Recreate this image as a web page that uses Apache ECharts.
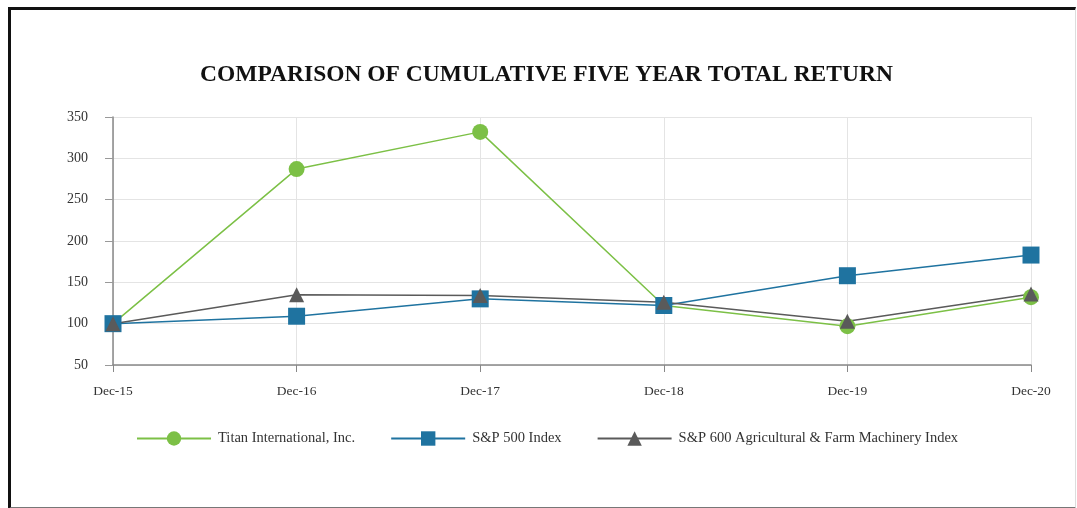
<!DOCTYPE html>
<html>
<head>
<meta charset="utf-8">
<script src="https://cdn.jsdelivr.net/npm/echarts@6/dist/echarts.min.js"></script>
<style>
html,body{margin:0;padding:0;background:#fff;}
#chart{position:absolute;left:0;top:0;width:1077px;height:508px;}
#frame{position:absolute;left:8px;top:7px;width:1064px;height:497px;border-left:3px solid #111;border-top:3px solid #111;border-right:1px solid #ddd;border-bottom:2px solid #777;pointer-events:none;}
</style>
</head>
<body>
<div id="chart"></div>
<div id="frame"></div>
<script>
const categories = ['Dec-15','Dec-16','Dec-17','Dec-18','Dec-19','Dec-20'];
const titan = [100, 287, 332, 122, 97, 132];
const sp500 = [100, 109, 130, 122, 158, 183];
const farm = [100, 135, 134, 126, 103, 136];
const seriesNames = ['Titan International, Inc.', 'S&P 500 Index', 'S&P 600 Agricultural & Farm Machinery Index'];

const chart = echarts.init(document.getElementById('chart'), null, {renderer:'canvas'});
const font = 'Liberation Serif, Times New Roman, serif';
function line(name, data, color, symbol, size){
  return {
    name, type:'line', data, symbol, symbolSize:size,
    lineStyle:{color, width:1.5},
    itemStyle:{color},
    emphasis:{disabled:true},
    animation:false
  };
}
chart.setOption({
  animation:false,
  title:{
    text:'COMPARISON OF CUMULATIVE FIVE YEAR TOTAL RETURN',
    left:195, top:58,
    textStyle:{fontFamily:font, fontWeight:'bold', fontSize:23.5, color:'#111'}
  },
  legend:{
    top:426, left:131,
    itemWidth:74, itemHeight:18, itemGap:35,
    textStyle:{fontFamily:font, fontSize:14.5, color:'#333', padding:[0,0,0,2]},
    data:seriesNames
  },
  grid:{left:113, right:46, top:117, bottom:143},
  xAxis:{
    type:'category', data:categories, boundaryGap:false,
    axisLine:{lineStyle:{color:'#888', width:1.5}},
    axisTick:{show:true, length:7, lineStyle:{color:'#888'}},
    axisLabel:{fontFamily:font, fontSize:13.5, color:'#333', margin:19},
    splitLine:{show:true, lineStyle:{color:'#e4e4e4'}}
  },
  yAxis:{
    type:'value', min:50, max:350, interval:50,
    axisLine:{show:true, lineStyle:{color:'#888', width:1.5}},
    axisTick:{show:true, length:8, lineStyle:{color:'#999'}},
    axisLabel:{fontFamily:font, fontSize:14, color:'#333', margin:25},
    splitLine:{show:true, lineStyle:{color:'#e4e4e4'}}
  },
  series:[
    line(seriesNames[0], titan, '#7cc046', 'circle', 16),
    line(seriesNames[1], sp500, '#1f73a0', 'rect', 17),
    line(seriesNames[2], farm, '#5a5a5a', 'triangle', 15)
  ]
});
</script>
</body>
</html>
